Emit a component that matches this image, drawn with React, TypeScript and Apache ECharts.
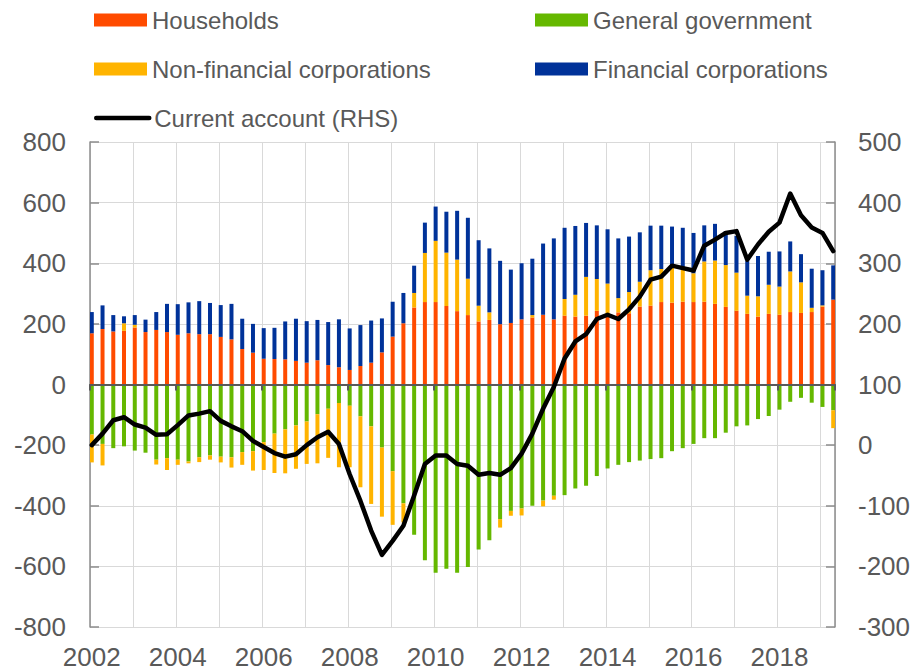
import React, { useEffect, useRef } from 'react';
import * as echarts from 'echarts';

// Quarterly observations, 2002Q1 – 2019Q2
const firstYear = 2002;
const lastYear = 2019;
const lastMonth = 4; // axis runs to end of April 2019

const households = [
  169, 183, 175, 177, 188, 173, 180, 173, 164, 169, 166, 166, 157, 149, 117, 105, 85, 84,
  83, 78, 72, 80, 64, 57, 48, 61, 72, 106, 158, 202, 254, 272, 272, 259, 242,
  229, 208, 213, 199, 203, 215, 221, 230, 215, 227, 224, 227, 243, 230, 238, 235, 257,
  260, 272, 270, 273, 272, 273, 266, 256, 243, 233, 224, 233, 230, 239, 236, 239, 257, 280,
];

const generalGovernment = [
  -165, -196, -210, -204, -218, -225, -248, -243, -248, -254, -240, -234, -238, -240, -223, -220, -190, -162,
  -148, -135, -122, -98, -80, -61, -70, -105, -138, -208, -286, -392, -496, -580, -621, -608, -621,
  -602, -544, -514, -444, -417, -409, -400, -383, -367, -365, -343, -334, -302, -277, -265, -256, -251,
  -246, -243, -220, -210, -196, -177, -177, -159, -138, -135, -114, -104, -83, -57, -44, -60, -74, -85,
];

const nonFinancialCorporations = [
  -92, -71, 0, 25, 9, 0, -16, -39, -17, -6, -16, -14, -19, -34, -42, -64, -92, -130,
  -145, -143, -140, -162, -162, -212, -203, -234, -256, -228, -177, -63, 48, 162, 202, 176, 170,
  120, 52, 25, -28, -16, -23, 8, -19, -13, 55, 72, 128, 105, 103, 47, 70, 82,
  117, 109, 118, 106, 95, 133, 143, 138, 126, 60, 67, 96, 93, 134, 101, 14, 4, -59,
];

const financialCorporations = [
  70, 78, 54, 23, 32, 41, 59, 93, 101, 102, 109, 103, 105, 117, 100, 95, 101, 103,
  125, 139, 137, 133, 142, 158, 137, 135, 139, 112, 115, 100, 90, 100, 113, 135, 161,
  201, 216, 211, 209, 176, 185, 186, 235, 267, 235, 227, 178, 177, 179, 197, 183, 163,
  147, 143, 133, 138, 133, 119, 121, 112, 121, 114, 133, 109, 116, 99, 93, 129, 116, 113,
];

const currentAccount = [
  0, 19, 41, 46, 34, 29, 17, 18, 33, 49, 52, 56, 40, 31, 23, 7, -3, -13,
  -19, -15, 0, 13, 22, 2, -48, -92, -141, -181, -158, -133, -83, -31, -17, -17, -31,
  -34, -49, -46, -49, -38, -14, 19, 60, 96, 143, 171, 183, 208, 215, 208, 224, 245,
  273, 278, 296, 292, 288, 329, 339, 350, 353, 306, 331, 352, 367, 415, 379, 359, 350, 320,
];

const seriesNames = [
  'Households',
  'General government',
  'Non-financial corporations',
  'Financial corporations',
  'Current account (RHS)',
];
const colors = ['#FF4B00', '#65B800', '#FFB400', '#003299', '#000000'];

// Monthly category axis; each quarter sits on its first month
const months: string[] = [];
for (let y = firstYear; y <= lastYear; y++) {
  for (let m = 1; m <= 12; m++) {
    if (y === lastYear && m > lastMonth) break;
    months.push(`${y}-${String(m).padStart(2, '0')}`);
  }
}

function toMonthly(values: number[]): (number | null)[] {
  const out: (number | null)[] = months.map(() => null);
  values.forEach((v, i) => {
    out[i * 3] = v;
  });
  return out;
}

const FONT = '"Liberation Sans", Arial, sans-serif';
const TEXT = '#595959';

export default function App() {
  const ref = useRef<HTMLDivElement>(null);

  useEffect(() => {
    if (!ref.current) return;
    const chart = echarts.init(ref.current, undefined, { renderer: 'svg' });

    const legendBase = {
      orient: 'horizontal',
      padding: 0,
      itemWidth: 53,
      itemHeight: 13,
      selectedMode: false,
      textStyle: { fontSize: 24, color: TEXT, fontFamily: FONT },
    };
    const legendPos = [
      [94, 8],
      [535, 8],
      [94, 57],
      [535, 57],
      [94, 106],
    ];

    const barData = [households, generalGovernment, nonFinancialCorporations, financialCorporations];

    const option: any = {
      animation: false,
      textStyle: { fontFamily: FONT },
      legend: seriesNames.map((name, i) => ({
        ...legendBase,
        data: [name],
        left: legendPos[i][0],
        top: legendPos[i][1],
        ...(i < 4
          ? { icon: 'rect' }
          : {
              lineStyle: { width: 4.5, cap: 'round', color: '#000' },
              itemStyle: { opacity: 0 },
            }),
      })),
      grid: { left: 90, top: 142, width: 745, height: 485 },
      xAxis: [
        {
          type: 'category',
          data: months,
          boundaryGap: true,
          position: 'bottom',
          axisLine: { show: false, onZero: false },
          axisTick: { show: false },
          axisLabel: {
            interval: (i: number) => i % 24 === 0,
            formatter: (v: string) => v.slice(0, 4),
            fontSize: 26,
            color: TEXT,
            fontFamily: FONT,
            margin: 17,
          },
          splitLine: {
            show: true,
            interval: (i: number) => i % 12 === 0,
            lineStyle: { color: '#d9d9d9', width: 1 },
          },
        },
        {
          type: 'category',
          data: months,
          boundaryGap: true,
          position: 'bottom',
          z: 3,
          axisLine: {
            show: true,
            onZero: true,
            onZeroAxisIndex: 0,
            lineStyle: { color: '#595959', width: 2 },
          },
          axisTick: {
            show: true,
            interval: (i: number) => i % 24 === 0,
            length: 6,
            lineStyle: { color: '#595959', width: 2 },
          },
          axisLabel: { show: false },
          splitLine: { show: false },
        },
      ],
      yAxis: [
        {
          type: 'value',
          min: -800,
          max: 800,
          interval: 200,
          position: 'left',
          axisLine: { show: true, lineStyle: { color: '#8c8c8c', width: 1.5 } },
          axisTick: { show: true, inside: true, length: 9, lineStyle: { color: '#8c8c8c', width: 1.5 } },
          axisLabel: { fontSize: 26, color: TEXT, fontFamily: FONT, margin: 24 },
          splitLine: { show: true, lineStyle: { color: '#d9d9d9', width: 1 } },
        },
        {
          type: 'value',
          min: -300,
          max: 500,
          interval: 100,
          position: 'right',
          axisLine: { show: true, lineStyle: { color: '#8c8c8c', width: 1.5 } },
          axisTick: { show: true, inside: true, length: 9, lineStyle: { color: '#8c8c8c', width: 1.5 } },
          axisLabel: { fontSize: 26, color: TEXT, fontFamily: FONT, margin: 23 },
          splitLine: { show: false },
        },
      ],
      series: [
        ...barData.map((vals, i) => ({
          name: seriesNames[i],
          type: 'bar',
          stack: 'total',
          xAxisIndex: 0,
          yAxisIndex: 0,
          barWidth: 4,
          data: toMonthly(vals),
          itemStyle: { color: colors[i] },
          z: 2,
        })),
        {
          name: seriesNames[4],
          type: 'line',
          xAxisIndex: 0,
          yAxisIndex: 1,
          data: toMonthly(currentAccount),
          connectNulls: true,
          symbol: 'none',
          itemStyle: { color: '#000' },
          lineStyle: { color: '#000', width: 4.5, join: 'round', cap: 'round' },
          z: 5,
        },
      ],
    };

    chart.setOption(option);
    return () => chart.dispose();
  }, []);

  return (
    <div
      ref={ref}
      style={{ position: 'fixed', left: 0, top: 0, width: 917, height: 672, background: '#fff' }}
    />
  );
}
